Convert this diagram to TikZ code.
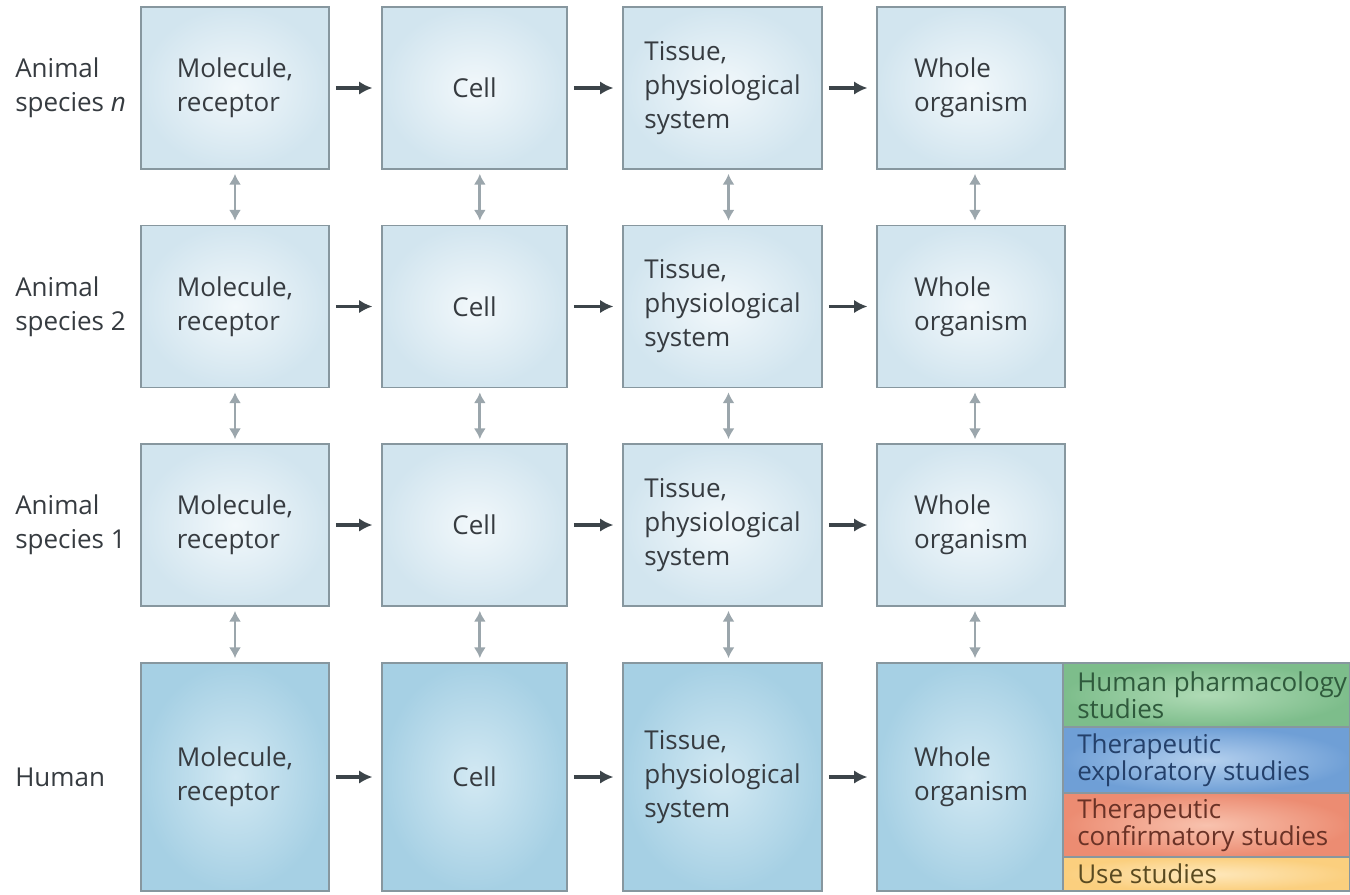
\documentclass[tikz,border=0pt]{standalone}
\usepackage{fontspec}
\setmainfont{Open Sans}
\usetikzlibrary{arrows.meta,calc}
\definecolor{boxline}{HTML}{87979F}
\definecolor{aIn}{HTML}{F2F8FB}
\definecolor{aOut}{HTML}{D2E5EF}
\definecolor{hIn}{HTML}{D3E9F3}
\definecolor{hOut}{HTML}{A6D0E4}
\definecolor{gIn}{HTML}{B0DBB6}
\definecolor{gOut}{HTML}{7DBD8B}
\definecolor{bIn}{HTML}{B4D0EE}
\definecolor{bOut}{HTML}{6F9FD6}
\definecolor{rIn}{HTML}{F8C2AE}
\definecolor{rOut}{HTML}{EC8C72}
\definecolor{yIn}{HTML}{FEE8BC}
\definecolor{yOut}{HTML}{FBCF7E}
\definecolor{txt}{HTML}{363B40}
\definecolor{harr}{HTML}{3C4449}
\definecolor{varr}{HTML}{9BA6AC}
\definecolor{gTxt}{HTML}{2F5A3C}
\definecolor{bTxt}{HTML}{24406A}
\definecolor{rTxt}{HTML}{6A3226}
\definecolor{yTxt}{HTML}{5A4A20}
\tikzset{
  mtext/.style={font=\fontsize{19.5}{25.5}\selectfont, text=txt, align=left},
  abox/.style={mtext, draw=boxline, line width=1.3pt, inner color=aIn, outer color=aOut, inner sep=0pt},
  hbox/.style={mtext, draw=boxline, line width=1.3pt, inner color=hIn, outer color=hOut, inner sep=0pt},
  sbox/.style={draw=boxline, line width=0.8pt, minimum width=215.25pt, inner sep=0pt},
  stext/.style={font=\fontsize{19.5}{19}\selectfont, align=left, anchor=west, inner sep=0pt},
  rlabel/.style={mtext, anchor=west, inner sep=0pt},
  harrow/.style={draw=harr, line width=2.5pt, -{Latex[length=10pt,width=10pt]}, shorten <=4.5pt, shorten >=6.5pt},
  varrow/.style={draw=varr, line width=2.1pt, {Latex[length=8pt,width=9pt]}-{Latex[length=8pt,width=9pt]}, shorten <=3pt, shorten >=3pt},
  c1/.style={minimum width=141pt},
  c2/.style={minimum width=138.75pt},
  c3/.style={minimum width=149.25pt},
  c4/.style={minimum width=141pt},
  ra/.style={minimum height=121.5pt},
  rh/.style={minimum height=171pt}
}
\begin{document}
\begin{tikzpicture}[x=0.75pt,y=-0.75pt]
\useasboundingbox (0,0) rectangle (1350,894);
% row species n
\node[abox,c1,ra] (r3c1) at (235,88) {Molecule,\\receptor};
\node[abox,c2,ra] (r3c2) at (474.5,88) {Cell};
\node[abox,c3,ra] (r3c3) at (722.5,88) {Tissue,\\physiological\\system};
\node[abox,c4,ra] (r3c4) at (971,88) {Whole\\organism};
% row species 2
\node[abox,c1,ra] (r2c1) at (235,306.5) {Molecule,\\receptor};
\node[abox,c2,ra] (r2c2) at (474.5,306.5) {Cell};
\node[abox,c3,ra] (r2c3) at (722.5,306.5) {Tissue,\\physiological\\system};
\node[abox,c4,ra] (r2c4) at (971,306.5) {Whole\\organism};
% row species 1
\node[abox,c1,ra] (r1c1) at (235,525) {Molecule,\\receptor};
\node[abox,c2,ra] (r1c2) at (474.5,525) {Cell};
\node[abox,c3,ra] (r1c3) at (722.5,525) {Tissue,\\physiological\\system};
\node[abox,c4,ra] (r1c4) at (971,525) {Whole\\organism};
% human
\node[hbox,c1,rh] (r0c1) at (235,777) {Molecule,\\receptor};
\node[hbox,c2,rh] (r0c2) at (474.5,777) {Cell};
\node[hbox,c3,rh] (r0c3) at (722.5,777) {Tissue,\\physiological\\system};
\node[hbox,c4,rh] (r0c4) at (971,777) {Whole\\organism};
% row labels
\node[rlabel] (l3) at (15,88) {Animal\\species \textit{n}};
\node[rlabel] (l2) at (15,306.5) {Animal\\species 2};
\node[rlabel] (l1) at (15,525) {Animal\\species 1};
\node[rlabel] (l0) at (15,777) {Human};
% side panel
\node[sbox, minimum height=48pt, inner color=gIn, outer color=gOut] (sg) at (1206.5,695) {};
\node[sbox, minimum height=49.5pt, inner color=bIn, outer color=bOut] (sb) at (1206.5,760) {};
\node[sbox, minimum height=48pt, inner color=rIn, outer color=rOut] (sr) at (1206.5,825) {};
\node[sbox, minimum height=25.5pt, inner color=yIn, outer color=yOut] (sy) at (1206.5,874) {};
\node[stext, text=gTxt] (tg) at (1077,695) {Human pharmacology\\studies};
\node[stext, text=bTxt] (tb) at (1077,760) {Therapeutic\\exploratory studies};
\node[stext, text=rTxt] (tr) at (1077,825) {Therapeutic\\confirmatory studies};
\node[stext, text=yTxt] (ty) at (1077,874) {Use studies};
% horizontal arrows
\foreach \r in {3,2,1,0}{
  \draw[harrow] (r\r c1) -- (r\r c2);
  \draw[harrow] (r\r c2) -- (r\r c3);
  \draw[harrow] (r\r c3) -- (r\r c4);
}
% vertical arrows
\foreach \a/\b in {3/2,2/1,1/0}{
  \draw[varrow] ([xshift=0pt]r\a c1.south) -- ([xshift=0pt]r\b c1.north);
  \draw[varrow] ([xshift=4pt]r\a c2.south) -- ([xshift=4pt]r\b c2.north);
  \draw[varrow] ([xshift=4.5pt]r\a c3.south) -- ([xshift=4.5pt]r\b c3.north);
  \draw[varrow] ([xshift=3pt]r\a c4.south) -- ([xshift=3pt]r\b c4.north);
}
\end{tikzpicture}
\end{document}
